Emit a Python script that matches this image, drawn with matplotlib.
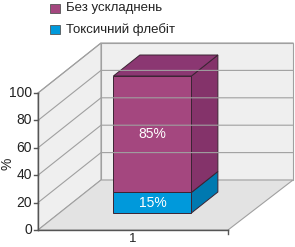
import matplotlib.pyplot as plt
from matplotlib.patches import Polygon, Rectangle

plt.rcParams['font.family'] = ['Liberation Sans', 'DejaVu Sans']

# Дані
categories = ['1']
series = ['Без ускладнень', 'Токсичний флебіт']
values_bottom = [15]   # Токсичний флебіт
values_top = [85]      # Без ускладнень
yticks = [0, 20, 40, 60, 80, 100]
front_colors = ['#0099db', '#a4477f']
side_colors = ['#0079b0', '#84336a']
top_color = '#8b3772'

# геометрія псевдо-3D (пікселі)
X0, Y0 = 38, 230        # початок координат на передній площині
W = 190                 # ширина підлоги
SCALE = 1.37            # пікселів на 1 %
DX, DY = 63, -50        # зсув глибини


def proj(x, v, d):
    return (X0 + x + d * DX, Y0 - v * SCALE + d * DY)


fig = plt.figure(figsize=(2.95, 2.47), dpi=100)
ax = fig.add_axes([0, 0, 1, 1])
ax.set_xlim(0, 295)
ax.set_ylim(247, 0)
ax.axis('off')

wall = '#efefef'
floor = '#e3e3e3'
edge = '#a0a0a0'

# ліва стіна
ax.add_patch(Polygon([proj(0, 0, 0), proj(0, 100, 0), proj(0, 100, 1), proj(0, 0, 1)],
                     closed=True, fc=wall, ec=edge, lw=0.8))
# задня стіна
ax.add_patch(Polygon([proj(0, 0, 1), proj(0, 100, 1), proj(W + 2, 100, 1), proj(W + 2, 0, 1)],
                     closed=True, fc=wall, ec=edge, lw=0.8))
# підлога
ax.add_patch(Polygon([proj(0, 0, 0), proj(0, 0, 1), proj(W + 2, 0, 1), proj(W, 0, 0)],
                     closed=True, fc=floor, ec=edge, lw=0.8))

# сітка
for t in yticks[1:]:
    a, b, c = proj(0, t, 0), proj(0, t, 1), proj(W + 2, t, 1)
    ax.plot([a[0], b[0], c[0]], [a[1], b[1], c[1]], color=edge, lw=0.8)

# осі
ax.plot([X0, X0], [Y0, Y0 - 100 * SCALE], color='#555555', lw=1)
ax.plot([X0, X0 + W], [Y0, Y0], color='#555555', lw=1)
for t in yticks:
    y = Y0 - t * SCALE
    ax.plot([X0 - 4, X0], [y, y], color='#555555', lw=1)
    ax.text(X0 - 6, y, str(t), ha='right', va='center', fontsize=10, color='#222222')
ax.plot([X0 + W, X0 + W], [Y0, Y0 + 4], color='#555555', lw=1)
ax.text(8, Y0 - 50 * SCALE + 2, '%', rotation=90, ha='center', va='center',
        fontsize=10, color='#222222')
ax.text(X0 + 95, 245, categories[0], ha='center', va='bottom', fontsize=9.5, color='#222222')

# стовпчик
bx0, bx1 = 54, 132
d1, d2 = 0.34, 0.76
bottoms = [0, values_bottom[0]]
heights = [values_bottom[0], values_top[0]]
for i in range(2):
    lo, hi = bottoms[i], bottoms[i] + heights[i]
    front = [proj(bx0, lo, d1), proj(bx0, hi, d1), proj(bx1, hi, d1), proj(bx1, lo, d1)]
    side = [proj(bx1, lo, d1), proj(bx1, hi, d1), proj(bx1, hi, d2), proj(bx1, lo, d2)]
    ax.add_patch(Polygon(side, closed=True, fc=side_colors[i], ec='#3b2433', lw=0.7))
    ax.add_patch(Polygon(front, closed=True, fc=front_colors[i], ec='#3b2433', lw=0.7))
    cx, cy = proj((bx0 + bx1) / 2, (lo + hi) / 2, d1)
    ax.text(cx, cy, f'{heights[i]}%', ha='center', va='center', color='white', fontsize=10)
top = [proj(bx0, 100, d1), proj(bx0, 100, d2), proj(bx1, 100, d2), proj(bx1, 100, d1)]
ax.add_patch(Polygon(top, closed=True, fc=top_color, ec='#3b2433', lw=0.7))

# легенда
legend_y = [8.5, 29.5]
legend_colors = [front_colors[1], front_colors[0]]
for y, lab, c in zip(legend_y, series, legend_colors):
    ax.add_patch(Rectangle((50, y - 4.5), 10, 9, fc=c, ec='#555555', lw=0.6))
    ax.text(66, y, lab, ha='left', va='center', fontsize=9.5, color='#222222')

fig.savefig('out.png', dpi=100)
